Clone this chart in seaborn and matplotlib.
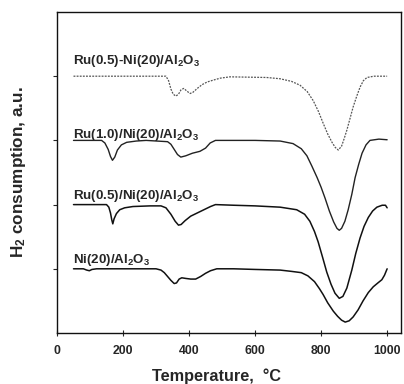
import matplotlib
matplotlib.use("Agg")
import matplotlib.pyplot as plt
import seaborn as sns
import pandas as pd

# ---- data ----
t_ni = [50, 80, 90, 98, 106, 120, 200, 300, 315, 325, 335, 345, 355, 362, 370, 378, 390, 405,
        420, 435, 450, 465, 484, 535, 600, 676, 710, 740, 760, 780, 795, 806, 820, 837, 850,
        862, 873, 885, 897, 912, 927, 943, 958, 972, 984, 992, 1000]
v_ni = [1.0, 1.0, 0.98, 0.97, 0.99, 1.0, 1.0, 1.0, 0.98, 0.94, 0.88, 0.82, 0.77, 0.78, 0.84,
        0.86, 0.85, 0.84, 0.84, 0.88, 0.93, 0.97, 1.0, 1.0, 0.99, 0.98, 0.96, 0.94, 0.89, 0.80,
        0.69, 0.60, 0.47, 0.34, 0.26, 0.20, 0.17, 0.19, 0.25, 0.36, 0.50, 0.63, 0.72, 0.78,
        0.83, 0.90, 1.0]

t_ru05 = [50, 150, 157, 162, 166, 169, 173, 180, 190, 205, 230, 282, 315, 330, 345, 358, 368,
          376, 388, 405, 425, 445, 465, 480, 535, 600, 676, 726, 750, 766, 780, 791, 805, 817,
          830, 842, 855, 866, 878, 893, 905, 918, 930, 943, 956, 969, 985, 995, 1000]
v_ru05 = [2.0, 2.0, 1.96, 1.87, 1.76, 1.70, 1.78, 1.86, 1.92, 1.95, 1.97, 1.98, 1.98, 1.95,
          1.85, 1.74, 1.68, 1.69, 1.75, 1.82, 1.87, 1.92, 1.97, 2.0, 1.99, 1.98, 1.96, 1.92,
          1.85, 1.74, 1.58, 1.42, 1.17, 0.95, 0.76, 0.62, 0.54, 0.57, 0.70, 0.98, 1.24, 1.48,
          1.66, 1.80, 1.90, 1.96, 1.99, 1.99, 1.95]

t_ru10 = [50, 135, 145, 155, 162, 168, 175, 183, 195, 211, 240, 270, 335, 345, 355, 365, 375,
          390, 410, 433, 450, 464, 480, 500, 600, 676, 715, 740, 757, 772, 788, 800, 812, 825,
          838, 848, 855, 862, 872, 882, 893, 903, 914, 924, 936, 948, 975, 1000]
v_ru10 = [3.0, 3.0, 2.96, 2.86, 2.75, 2.69, 2.74, 2.85, 2.93, 2.97, 2.99, 3.0, 2.98, 2.94,
          2.86, 2.78, 2.74, 2.76, 2.80, 2.83, 2.88, 2.96, 3.0, 3.0, 3.0, 2.99, 2.95, 2.87, 2.76,
          2.60, 2.42, 2.27, 2.10, 1.90, 1.73, 1.63, 1.60, 1.63, 1.74, 1.92, 2.16, 2.42, 2.63,
          2.80, 2.93, 3.0, 3.02, 3.01]

t_ruco = [50, 330, 338, 345, 352, 360, 368, 376, 384, 393, 403, 412, 425, 440, 455, 474, 495,
          524, 635, 676, 710, 736, 758, 776, 792, 806, 820, 833, 843, 852, 862, 870, 878, 887,
          897, 908, 918, 928, 939, 960, 1000]
v_ruco = [4.0, 4.0, 3.93, 3.80, 3.72, 3.69, 3.72, 3.79, 3.81, 3.77, 3.73, 3.75, 3.81, 3.87,
          3.91, 3.94, 3.97, 3.99, 3.98, 3.96, 3.92, 3.86, 3.76, 3.62, 3.45, 3.27, 3.10, 2.97,
          2.89, 2.85, 2.91, 3.03, 3.16, 3.33, 3.52, 3.69, 3.83, 3.93, 3.98, 4.0, 4.0]

labels = ["Ni(20)/Al$_\\mathbf{2}$O$_\\mathbf{3}$",
          "Ru(0.5)/Ni(20)/Al$_\\mathbf{2}$O$_\\mathbf{3}$",
          "Ru(1.0)/Ni(20)/Al$_\\mathbf{2}$O$_\\mathbf{3}$",
          "Ru(0.5)-Ni(20)/Al$_\\mathbf{2}$O$_\\mathbf{3}$"]
label_y = [1.14, 2.14, 3.09, 4.23]
x_ticks = [0, 200, 400, 600, 800, 1000]
y_ticks = [1, 2, 3, 4]

# ---- plot ----
sns.set_style("ticks")
plt.rcParams["font.family"] = ["Liberation Sans", "DejaVu Sans"]
plt.rcParams["mathtext.fontset"] = "custom"
plt.rcParams["mathtext.rm"] = "Liberation Sans:bold"
plt.rcParams["mathtext.bf"] = "Liberation Sans:bold"
plt.rcParams["mathtext.it"] = "Liberation Sans:bold"

fig = plt.figure(figsize=(4.04, 3.84), dpi=100)
ax = fig.add_axes([57 / 404, 51 / 384, 344 / 404, 321 / 384])

series = [(t_ni, v_ni, "-", "#111111", 1.1),
          (t_ru05, v_ru05, "-", "#111111", 1.1),
          (t_ru10, v_ru10, "-", "#222222", 1.0),
          (t_ruco, v_ruco, (0, (1.5, 1.0)), "#555555", 0.9)]
for (t, v, ls, c, lw) in series:
    df = pd.DataFrame({"T": t, "v": v})
    sns.lineplot(data=df, x="T", y="v", ax=ax, color=c, linewidth=lw, linestyle=ls,
                 sort=False, estimator=None)

for lab, ly in zip(labels, label_y):
    ax.text(47, ly, lab, fontsize=9.6, fontweight="bold", va="center", ha="left")

ax.set_xlim(0, 1042)
ax.set_ylim(0, 5)
ax.set_xticks(x_ticks)
ax.set_xticklabels([str(x) for x in x_ticks], fontsize=8.8, fontweight="bold")
ax.set_yticks(y_ticks)
ax.set_yticklabels([])
ax.tick_params(axis="x", direction="inout", length=4, width=0.8, pad=7)
ax.tick_params(axis="y", direction="out", length=3, width=0.8)
for s in ax.spines.values():
    s.set_linewidth(1.0)
    s.set_color("#111111")

ax.set_xlabel("Temperature,  \u00b0C", fontsize=11.7, fontweight="bold")
ax.xaxis.set_label_coords(0.465, -0.11)
ax.set_ylabel("H$_\\mathbf{2}$ consumption, a.u.", fontsize=12.3, fontweight="bold")
ax.yaxis.set_label_coords(-0.085, 0.5)

fig.savefig("out.png", dpi=100)
